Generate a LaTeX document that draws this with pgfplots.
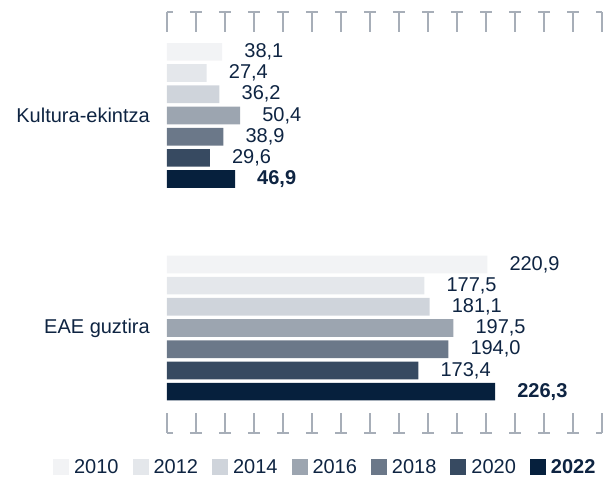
\documentclass[border=0pt]{standalone}
\usepackage{pgfplots}
\pgfplotsset{compat=1.18}
\usepackage{fontspec}
\setmainfont{Liberation Sans}
\definecolor{c2010}{HTML}{F2F3F5}
\definecolor{c2012}{HTML}{E4E7EB}
\definecolor{c2014}{HTML}{CFD4DB}
\definecolor{c2016}{HTML}{9CA5B0}
\definecolor{c2018}{HTML}{6B7889}
\definecolor{c2020}{HTML}{374A61}
\definecolor{c2022}{HTML}{06203D}
\definecolor{txt}{HTML}{0E2442}
\definecolor{tickc}{HTML}{A7AEB8}
\newcommand{\lf}{\fontsize{20bp}{24bp}\selectfont}
\pgfplotsset{sqlegend/.style={legend image code/.code={\fill[##1,draw=none] (0bp,-8bp) rectangle (16bp,8bp);}}}
\begin{document}
\begin{tikzpicture}[font=\lf]
\begin{axis}[
  scale only axis, width=435bp, height=421bp,
  xbar, bar width=17.7bp,
  xmin=0, xmax=300, ymin=-0.494, ymax=1.487,
  xtick={0,20,...,300}, xticklabels={},
  ytick={0,1}, yticklabels={EAE guztira, Kultura-ekintza},
  y tick label style={inner sep=0pt, xshift=-17bp, text=txt, font=\lf},
  major tick length=20bp, tick align=inside,
  x tick style={draw=tickc, line width=1.1bp},
  y tick style={draw=none},
  separate axis lines,
  x axis line style={draw=tickc, line width=1.1bp, dash pattern=on 12bp off 17bp, dash phase=6bp},
  y axis line style={draw=none},
  clip=false,
  point meta=x,
  nodes near coords={\pgfmathprintnumber[fixed, fixed zerofill, precision=1, use comma]{\pgfplotspointmeta}},
  nodes near coords style={anchor=west, inner sep=0pt, xshift=22bp, text=txt, font=\lf},
  /pgf/number format/assume math mode=true,
  legend columns=7,
  legend style={draw=none, fill=none, inner sep=0pt, outer sep=0pt,
    at={(-0.262,-0.0808)}, anchor=west, text=txt, font=\lf,
    /tikz/every odd column/.append style={column sep=5bp},
    /tikz/every even column/.append style={column sep=14bp},
    nodes={inner sep=0pt}},
  sqlegend,
  legend cell align=left,
]
\addplot[fill=c2010, draw=none, bar shift=63.6bp] coordinates {(38.1,1) (220.9,0)};
\addplot[fill=c2012, draw=none, bar shift=42.4bp] coordinates {(27.4,1) (177.5,0)};
\addplot[fill=c2014, draw=none, bar shift=21.2bp] coordinates {(36.2,1) (181.1,0)};
\addplot[fill=c2016, draw=none, bar shift=0bp] coordinates {(50.4,1) (197.5,0)};
\addplot[fill=c2018, draw=none, bar shift=-21.2bp] coordinates {(38.9,1) (194.0,0)};
\addplot[fill=c2020, draw=none, bar shift=-42.4bp] coordinates {(29.6,1) (173.4,0)};
\addplot[fill=c2022, draw=none, bar shift=-63.6bp, nodes near coords style={font=\lf\bfseries}] coordinates {(46.9,1) (226.3,0)};
\legend{2010,2012,2014,2016,2018,2020,\textbf{2022}}
\end{axis}
\pgfresetboundingbox
\path (-167bp,-44bp) rectangle (445bp,433bp);
\end{tikzpicture}
\end{document}
